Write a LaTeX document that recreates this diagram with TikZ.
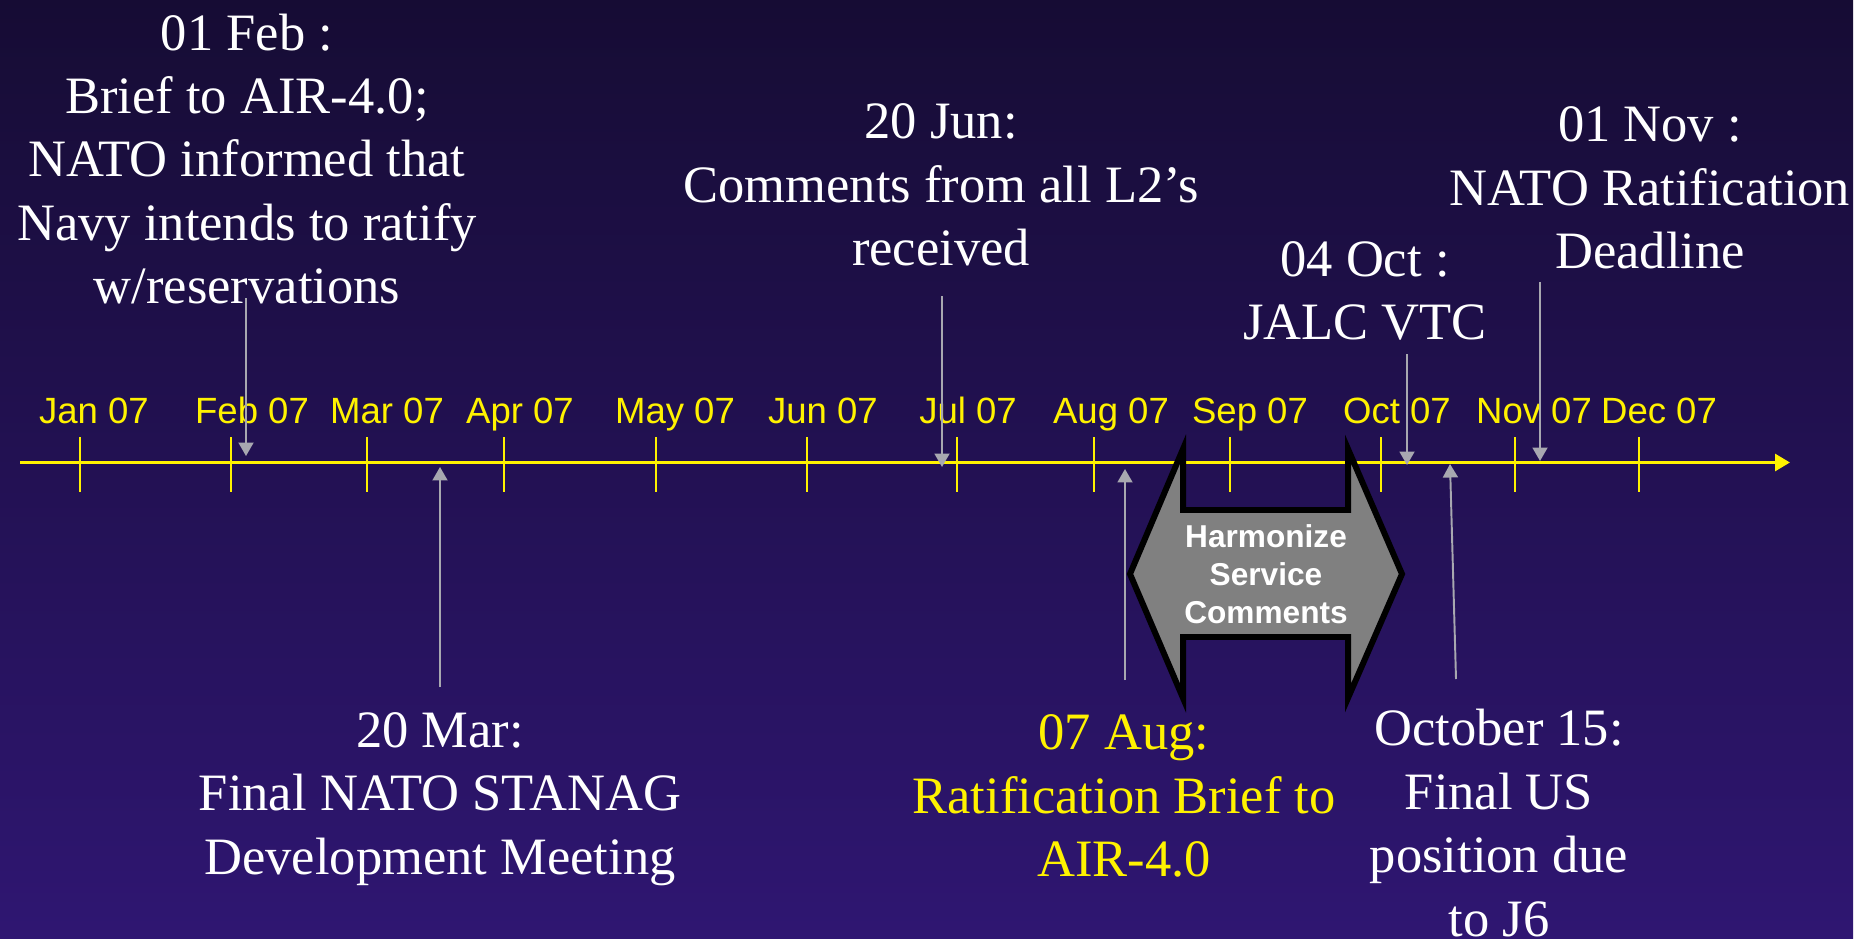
\documentclass[tikz,border=0pt]{standalone}
\usepackage{fontspec}
\setmainfont{Liberation Serif}
\newfontfamily\arialfont{Liberation Sans}
\usetikzlibrary{arrows.meta}

\definecolor{bgtop}{RGB}{22,12,52}
\definecolor{bgbottom}{RGB}{47,22,114}
\definecolor{pointergray}{RGB}{168,168,176}
\definecolor{harmgray}{RGB}{128,128,128}

\begin{document}
\begin{tikzpicture}[
    x=0.02cm, y=-0.02cm,
    % Define Styles
    event/.style={
        align=center,
        text=white,
        inner sep=0pt,
        font=\fontsize{29.9pt}{36.1pt}\selectfont
    },
    monthlabel/.style={
        anchor=base,
        text=yellow,
        inner sep=0pt,
        font=\arialfont\fontsize{20.8pt}{25pt}\selectfont
    },
    timeline/.style={
        draw,
        yellow,
        line width=1.7pt,
        -{Triangle[length=0.3cm,width=0.34cm]}
    },
    monthtick/.style={
        draw,
        yellow,
        line width=1.6pt
    },
    pointer/.style={
        draw,
        pointergray,
        line width=1.1pt,
        -{Triangle[length=0.27cm,width=0.3cm]}
    },
    harmshape/.style={
        draw=black,
        fill=harmgray,
        line width=3.4pt
    },
    harmtext/.style={
        align=center,
        text=white,
        inner sep=0pt,
        font=\arialfont\bfseries\fontsize{18pt}{21.6pt}\selectfont
    }
    ]

    % Background
    \useasboundingbox (0,0) rectangle (1873,939);
    \fill[white] (0,0) rectangle (1873,939);
    \shade[top color=bgtop, bottom color=bgbottom] (0,0) rectangle (1853,939);

    % Define Coordinates
    \coordinate (tlstart) at (20,462.5);   % Timeline start
    \coordinate (tlend) at (1790,462.5);   % Timeline end

    % Pointer ends (text side / timeline side)
    \coordinate (febA) at (246,298);
    \coordinate (febB) at (246,456);
    \coordinate (marA) at (440,687);
    \coordinate (marB) at (440,467);
    \coordinate (junA) at (942,296);
    \coordinate (junB) at (942,467);
    \coordinate (augA) at (1125,680);
    \coordinate (augB) at (1125,469);
    \coordinate (octA) at (1407,354);
    \coordinate (octB) at (1407,465);
    \coordinate (novA) at (1540,282);
    \coordinate (novB) at (1540,461);
    \coordinate (oqA) at (1456,679);
    \coordinate (oqB) at (1450,464);

    % Timeline
    \draw[timeline] (tlstart) -- (tlend);

    % Month ticks and labels
    \foreach \m/\t/\l in {Jan/80/94, Feb/231/252, Mar/367/387, Apr/504/520,
                          May/656/675, Jun/807/823, Jul/957/968, Aug/1094/1111,
                          Sep/1230/1250, Oct/1381/1397, Nov/1515/1534, Dec/1639/1659} {
        \draw[monthtick] (\t,437) -- (\t,492);
        \node[monthlabel] (m\m) at (\l,423) {\m\ 07};
    }

    % Harmonize double arrow
    \draw[harmshape, shift={(1266,574)}]
        (-136,0) -- (-83,-125) -- (-83,-64) -- (82,-64) -- (82,-125)
        -- (136,0) -- (82,124) -- (82,63) -- (-83,63) -- (-83,124) -- cycle;
    \node[harmtext] (harm) at (1266,574) {Harmonize\\Service\\Comments};

    % Pointers
    \draw[pointer] (febA) -- (febB);
    \draw[pointer] (marA) -- (marB);
    \draw[pointer] (junA) -- (junB);
    \draw[pointer] (augA) -- (augB);
    \draw[pointer] (octA) -- (octB);
    \draw[pointer] (novA) -- (novB);
    \draw[pointer] (oqA) -- (oqB);

    % Events above the line
    \node[event] (febtxt) at (247,159)
        {01 Feb :\\Brief to AIR-4.0;\\NATO informed that\\Navy intends to ratify\\w/reservations};
    \node[event] (juntxt) at (941,185) {20 Jun:\\Comments from all L2’s\\received};
    \node[event] (octtxt) at (1365,291) {04 Oct :\\JALC VTC};
    \node[event] (novtxt) at (1650,188) {01 Nov :\\NATO Ratification\\Deadline};

    % Events below the line
    \node[event] (martxt) at (440,799) {20 Mar:\\Final NATO STANAG\\Development Meeting};
    \node[event, text=yellow] (augtxt) at (1124,796) {07 Aug:\\Ratification Brief to\\AIR-4.0};
    \node[event] (oqtxt) at (1499,823) {October 15:\\Final US\\position due\\to J6};

\end{tikzpicture}
\end{document}
